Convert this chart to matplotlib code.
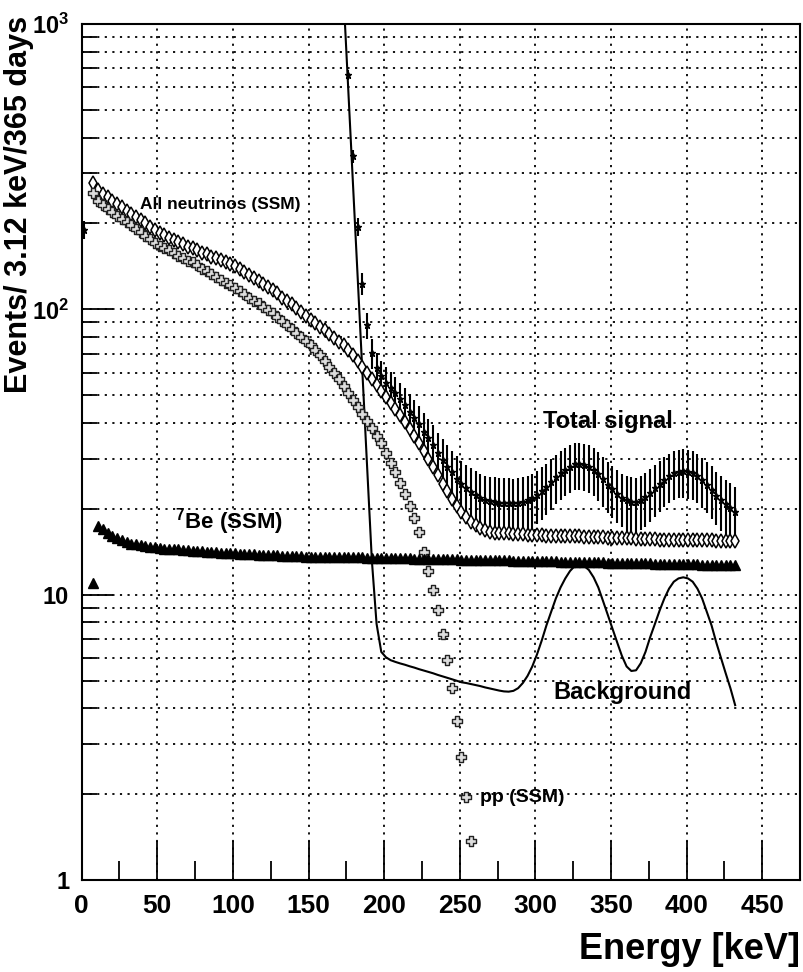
#!/usr/bin/env python3
"""
Solar neutrino signal vs background spectrum (log scale)
"""

import numpy as np
import matplotlib
matplotlib.use('Agg')
import matplotlib.pyplot as plt
from matplotlib.path import Path
from matplotlib.ticker import LogLocator, NullFormatter, MultipleLocator

# bins of 3.12 keV, 139 bins
bin_width = 3.12
n_bins = 139
energy = bin_width * (np.arange(n_bins) + 0.5)

# All neutrinos (SSM), starts at bin 2
allnu_start = 2
allnu = [278, 263, 254, 247, 240, 234,
         228, 222, 216, 210, 205, 200, 194, 189,
         185, 182, 178, 175, 172, 169, 166, 164,
         161, 158, 156, 153, 151, 149, 146, 144, 142,
         138, 135, 132, 129, 126, 123, 120, 117,
         114, 110, 107, 104, 101, 97.8, 94.9, 92.0,
         89.3, 86.7, 84.3, 81.8, 79.4, 77.1,
         74.8, 71.8, 68.9, 65.9, 63.0, 60.0, 57.1, 54.5, 51.9, 49.4, 47.1, 44.9,
         42.6, 40.4, 38.2, 36.1, 34.0, 31.9, 29.9, 28.1, 26.2, 24.5, 23.0, 21.7,
         20.5, 19.5, 18.7, 18.0, 17.5, 17.1, 16.8, 16.6, 16.5, 16.4,
         16.4, 16.4, 16.3, 16.3, 16.3, 16.2, 16.2, 16.2, 16.2, 16.1,
         16.1, 16.1, 16.1, 16.0, 16.0, 16.0, 16.0, 15.9, 15.9, 15.9,
         15.9, 15.9, 15.8, 15.8, 15.8, 15.8, 15.8, 15.8, 15.7, 15.7,
         15.7, 15.7, 15.7, 15.6, 15.6, 15.6, 15.6, 15.6, 15.6, 15.5,
         15.5, 15.5, 15.5, 15.5, 15.5, 15.4, 15.4, 15.4, 15.4, 15.4]

# pp (SSM), starts at bin 2
pp_start = 2
pp = [255, 240, 232, 225, 219, 213,
      208, 202, 197, 191, 186, 181, 176, 171,
      167, 164, 161, 157, 154, 151, 148, 146, 143,
      139, 136, 133, 130, 127, 124, 122, 119,
      116, 113, 110, 107, 105, 102, 99.3, 96.8,
      94.0, 91.0, 88.1, 85.3, 82.6, 80.0, 77.4, 75.0,
      72.1, 69.0, 66.1, 63.0, 59.8, 56.8, 53.8, 50.9, 48.2, 45.6, 43.1, 40.6,
      38.3, 36.1, 33.9, 31.4, 29.0, 26.8, 24.6, 22.5, 20.4, 18.5, 16.6, 14.1,
      12.1, 10.4, 8.8, 7.3, 5.9, 4.7, 3.6, 2.7, 1.96, 1.37]

# 7Be (SSM), starts at bin 2
be7_start = 2
be7 = [11.0,
       17.4, 17.0, 16.5, 16.1, 15.8, 15.5, 15.3, 15.1,
       15.0, 14.9, 14.8, 14.7, 14.7, 14.6, 14.5, 14.5, 14.4, 14.4,
       14.3, 14.3, 14.2, 14.2, 14.2, 14.1, 14.1, 14.1, 14.0, 14.0, 14.0, 14.0,
       13.9, 13.9, 13.9, 13.9, 13.8, 13.8, 13.8, 13.8,
       13.8, 13.7, 13.7, 13.7, 13.7, 13.7, 13.6, 13.6, 13.6, 13.6,
       13.6, 13.5, 13.5, 13.5, 13.5, 13.5, 13.5, 13.5, 13.5, 13.4, 13.4, 13.4, 13.4, 13.4, 13.4,
       13.4, 13.4, 13.4, 13.4, 13.3, 13.3, 13.3, 13.3, 13.3, 13.3, 13.3, 13.3, 13.3, 13.3,
       13.2, 13.2, 13.2, 13.2, 13.2, 13.2, 13.2, 13.2, 13.2, 13.2, 13.2,
       13.1, 13.1, 13.1, 13.1, 13.1, 13.1, 13.1, 13.1, 13.1, 13.1,
       13.0, 13.0, 13.0, 13.0, 13.0, 13.0, 13.0, 13.0, 13.0, 13.0,
       12.9, 12.9, 12.9, 12.9, 12.9, 12.9, 12.9, 12.9, 12.9, 12.9,
       12.8, 12.8, 12.8, 12.8, 12.8, 12.8, 12.8, 12.8, 12.8, 12.8,
       12.7, 12.7, 12.7, 12.7, 12.7, 12.7, 12.7, 12.7]

# Background, starts at bin 54
bkg_start = 54
background = [2700, 1260, 590, 275, 129, 60, 28, 13.2, 7.9, 6.3, 6.03, 5.89, 5.81,
              5.74, 5.68, 5.61, 5.55, 5.48, 5.42, 5.36, 5.30, 5.23, 5.17, 5.11, 5.05, 4.99, 4.93,
              4.90, 4.86, 4.82, 4.78, 4.73, 4.69, 4.65, 4.61, 4.58, 4.57,
              4.60, 4.70, 4.90, 5.19, 5.60, 6.17, 6.9, 7.8, 8.7, 9.7,
              10.6, 11.4, 12.1, 12.6, 12.7, 12.6, 12.2, 11.5, 10.6, 9.5,
              8.5, 7.6, 6.8, 6.1, 5.6, 5.4, 5.43, 5.75, 6.3, 7.1,
              7.9, 8.8, 9.7, 10.5, 11.1, 11.4, 11.5, 11.4, 11.1, 10.5,
              9.7, 8.7, 7.8, 6.8, 6.0, 5.3, 4.7, 4.1]

# Total signal, starts at bin 54 (plus a lone first-bin point)
total_start = 54
total = [2780, 1335, 662, 344, 195, 123, 88.0, 70.3, 62.4, 58.2, 55.4, 53.0, 50.7,
         48.3, 46.1, 43.8, 41.7, 39.5, 37.3, 35.3, 33.4, 31.4, 29.7, 28.1, 26.8, 25.5, 24.4,
         23.6, 22.9, 22.3, 21.9, 21.5, 21.3, 21.2, 21.0, 21.0, 21.0,
         20.9, 21.0, 21.2, 21.4, 21.8, 22.4, 23.1, 23.9, 24.8, 25.8,
         26.7, 27.4, 28.1, 28.6, 28.7, 28.5, 28.1, 27.4, 26.5, 25.4,
         24.3, 23.4, 22.6, 21.9, 21.4, 21.2, 21.1, 21.5, 22.0, 22.8,
         23.6, 24.4, 25.3, 26.1, 26.7, 27.0, 27.1, 26.9, 26.6, 26.0,
         25.2, 24.2, 23.3, 22.2, 21.4, 20.7, 20.1, 19.5]
total_bin0 = 190.0


def seg(start, values):
    x = energy[start:start + len(values)]
    return x, np.array(values, dtype=float)


# fonts
plt.rcParams['font.family'] = ['Liberation Sans', 'DejaVu Sans']
plt.rcParams['font.weight'] = 'bold'
plt.rcParams['mathtext.fontset'] = 'custom'
plt.rcParams['mathtext.rm'] = 'Liberation Sans:bold'
plt.rcParams['mathtext.bf'] = 'Liberation Sans:bold'
plt.rcParams['mathtext.it'] = 'Liberation Sans:bold'

fig = plt.figure(figsize=(8.04, 9.72), dpi=100)
ax = fig.add_axes([0.1016, 0.0947, 0.8934, 0.8806])

# open cross marker (ROOT style)
a = 0.33
cross = Path([(-a, 1), (a, 1), (a, a), (1, a), (1, -a), (a, -a), (a, -1), (-a, -1),
              (-a, -a), (-1, -a), (-1, a), (-a, a), (-a, 1)], closed=True)

# background
xb, yb = seg(bkg_start, background)
ax.plot(xb, yb, color='black', lw=1.5, zorder=3)

# total signal with poisson errors
xt, yt = seg(total_start, total)
xt = np.concatenate([[energy[0]], xt])
yt = np.concatenate([[total_bin0], yt])
ax.errorbar(xt, yt, yerr=np.sqrt(yt), fmt='*', color='black', ms=5,
            elinewidth=1.5, capsize=0, zorder=4)

# all neutrinos
xa, ya = seg(allnu_start, allnu)
ax.plot(xa, ya, ls='none', marker='d', ms=7, mfc='white', mec='black', mew=1.1, zorder=5)

# pp
xp, yp = seg(pp_start, pp)
ax.plot(xp, yp, ls='none', marker=cross, ms=7.5, mfc='#dddddd', mec='#222222', mew=1.0, zorder=5)

# 7Be
xe, ye = seg(be7_start, be7)
ax.plot(xe, ye, ls='none', marker='^', ms=6.5, color='black', zorder=6)

ax.set_yscale('log')
ax.set_xlim(0, 475)
ax.set_ylim(1, 1000)

ax.xaxis.set_major_locator(MultipleLocator(50))
ax.xaxis.set_minor_locator(MultipleLocator(25))
ax.set_yticks([1, 10, 100, 1000])
ax.set_yticklabels(['1', '10', r'$\mathbf{10^{2}}$', r'$\mathbf{10^{3}}$'])
ax.yaxis.set_minor_locator(LogLocator(base=10, subs=np.arange(2, 10)))
ax.yaxis.set_minor_formatter(NullFormatter())

ax.tick_params(axis='x', which='major', direction='in', length=28, width=1.3,
               labelsize=19, pad=10)
ax.tick_params(axis='x', which='minor', direction='in', length=14, width=1.3)
ax.tick_params(axis='y', which='major', direction='in', length=22, width=1.3,
               labelsize=17, pad=9)
ax.tick_params(axis='y', which='minor', direction='in', length=11, width=1.3)
for s in ax.spines.values():
    s.set_linewidth(1.5)

dots = (0, (1.2, 3.0))
ax.grid(True, which='major', axis='x', color='black', ls=dots, lw=1.3)
ax.grid(True, which='both', axis='y', color='black', ls=dots, lw=1.3)
ax.set_axisbelow(True)

# axis titles (ROOT style, at the ends)
fig.text(0.024, 0.984, 'Events/ 3.12 keV/365 days', rotation=90, ha='center', va='top',
         fontsize=22, fontweight='bold')
fig.text(0.995, 0.005, 'Energy [keV]', ha='right', va='bottom', fontsize=26, fontweight='bold')

# labels
ax.text(38.6, 233, 'All neutrinos (SSM)', fontsize=12.5, va='center', ha='left')
ax.text(305, 40.5, 'Total signal', fontsize=17, va='center', ha='left')
ax.text(61.7, 18.0, r'$^{7}$Be (SSM)', fontsize=16, va='center', ha='left')
ax.text(311.7, 4.53, 'Background', fontsize=17, va='center', ha='left')
ax.text(263.5, 1.94, 'pp (SSM)', fontsize=14, va='center', ha='left')

plt.savefig('out.png', dpi=100)
